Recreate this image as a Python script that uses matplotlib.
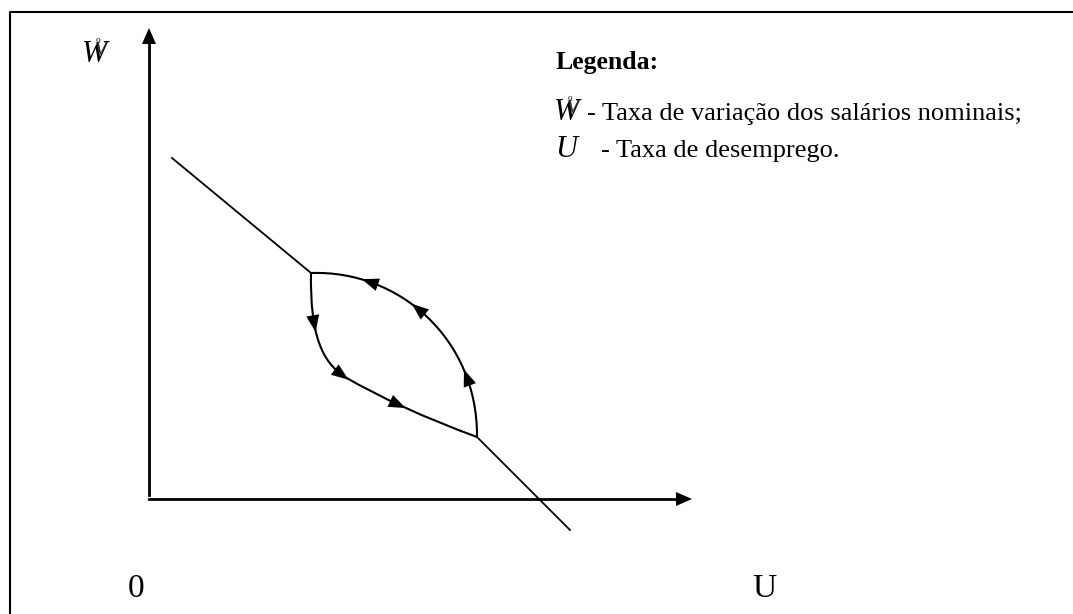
import numpy as np
import matplotlib.pyplot as plt
from math import comb
from matplotlib.path import Path
from matplotlib.patches import PathPatch, Polygon

plt.rcParams['font.family'] = ['Liberation Serif', 'DejaVu Serif']

# diagram geometry, in picture pixels (y grows downward)
axis_origin = (149, 499)
y_axis_top = 28
x_axis_end = 692
upper_line = [(172, 158), (311, 273)]
lower_line = [(477, 437), (570, 530)]
# the loop: upper arc is one cubic bezier, lower path a cubic then a quadratic
upper_arc = [(311, 273), (400, 270), (478, 340), (477, 437)]
lower_arc1 = [(311, 273), (310, 335), (322, 362), (345, 377)]
lower_arc2 = [(345, 377), (398, 408), (477, 437)]
# where the arrowheads sit along each curve (bezier parameter)
upper_arrow_t = [0.23, 0.45, 0.78]
lower1_arrow_t = [0.33, 0.95]
lower2_arrow_t = [0.45]

legend_title = "Legenda:"
legend_items = ["- Taxa de variação dos salários nominais;", "- Taxa de desemprego."]
origin_label = "0"
x_label = "U"


def bezier(pts, t):
    pts = np.asarray(pts, float)
    n = len(pts) - 1
    coef = [comb(n, k) * (1 - t) ** (n - k) * t ** k for k in range(n + 1)]
    return np.dot(coef, pts)


def bezier_tangent(pts, t):
    pts = np.asarray(pts, float)
    d = (len(pts) - 1) * np.diff(pts, axis=0)
    return bezier(d, t)


def arrowhead(ax, centre, direction, length=17, width=13):
    d = np.asarray(direction, float)
    d = d / np.hypot(*d)
    perp = np.array([-d[1], d[0]])
    c = np.asarray(centre, float)
    tip = c + d * length / 2
    base = c - d * length / 2
    tri = [tip, base + perp * width / 2, base - perp * width / 2]
    ax.add_patch(Polygon(tri, closed=True, color='black', lw=0))


def curve_patch(pts, lw):
    codes = {3: Path.CURVE3, 4: Path.CURVE4}[len(pts)]
    path = Path(pts, [Path.MOVETO] + [codes] * (len(pts) - 1))
    return PathPatch(path, fill=False, lw=lw, color='black', capstyle='round')


fig = plt.figure(figsize=(10.73, 6.14), dpi=100)
ax = fig.add_axes([0, 0, 1, 1])
ax.set_xlim(0, 1073)
ax.set_ylim(614, 0)
ax.axis('off')

# frame (top and left edges visible)
ax.plot([10, 10, 1073], [614, 12, 12], color='black', lw=1.5)

# axes with arrows
ox, oy = axis_origin
ax.plot([ox, ox], [oy - 4, y_axis_top + 12], color='black', lw=2)
arrowhead(ax, (ox, y_axis_top + 8), (0, -1), length=16, width=14)
ax.plot([ox, x_axis_end - 12], [oy, oy], color='black', lw=2)
arrowhead(ax, (x_axis_end - 8, oy), (1, 0), length=16, width=14)

# straight parts of the curve
for seg in (upper_line, lower_line):
    xs, ys = zip(*seg)
    ax.plot(xs, ys, color='black', lw=1.3)

# the loop
for pts in (upper_arc, lower_arc1, lower_arc2):
    ax.add_patch(curve_patch(pts, 1.5))

for t in upper_arrow_t:
    arrowhead(ax, bezier(upper_arc, t), -bezier_tangent(upper_arc, t))
for t in lower1_arrow_t:
    arrowhead(ax, bezier(lower_arc1, t), bezier_tangent(lower_arc1, t))
for t in lower2_arrow_t:
    arrowhead(ax, bezier(lower_arc2, t), bezier_tangent(lower_arc2, t))


def w_symbol(x, y, size):
    # W with the overlapping dot mark as printed in the original
    ax.text(x, y, "W", fontsize=size, style='italic', va='baseline', ha='left')
    ax.text(x + size * 0.55, y - size * 0.33, "V", fontsize=size * 0.6,
            style='italic', va='baseline', ha='left', color='#333333')
    ax.text(x + size * 0.6, y - size * 0.9, "o", fontsize=size * 0.3,
            va='baseline', ha='left')


# axis labels
w_symbol(82, 62, 22)
ax.text(128, 597, origin_label, fontsize=24, va='baseline', ha='left')
ax.text(752, 597, x_label, fontsize=24, va='baseline', ha='left')

# legend
ax.text(555, 69, legend_title, fontsize=18.5, fontweight='bold', va='baseline', ha='left')
w_symbol(554, 120, 22)
ax.text(587, 120, legend_items[0], fontsize=19, va='baseline', ha='left')
ax.text(555, 157, "U", fontsize=22, style='italic', va='baseline', ha='left')
ax.text(601, 157, legend_items[1], fontsize=19, va='baseline', ha='left')

fig.savefig('out.png', dpi=100)
